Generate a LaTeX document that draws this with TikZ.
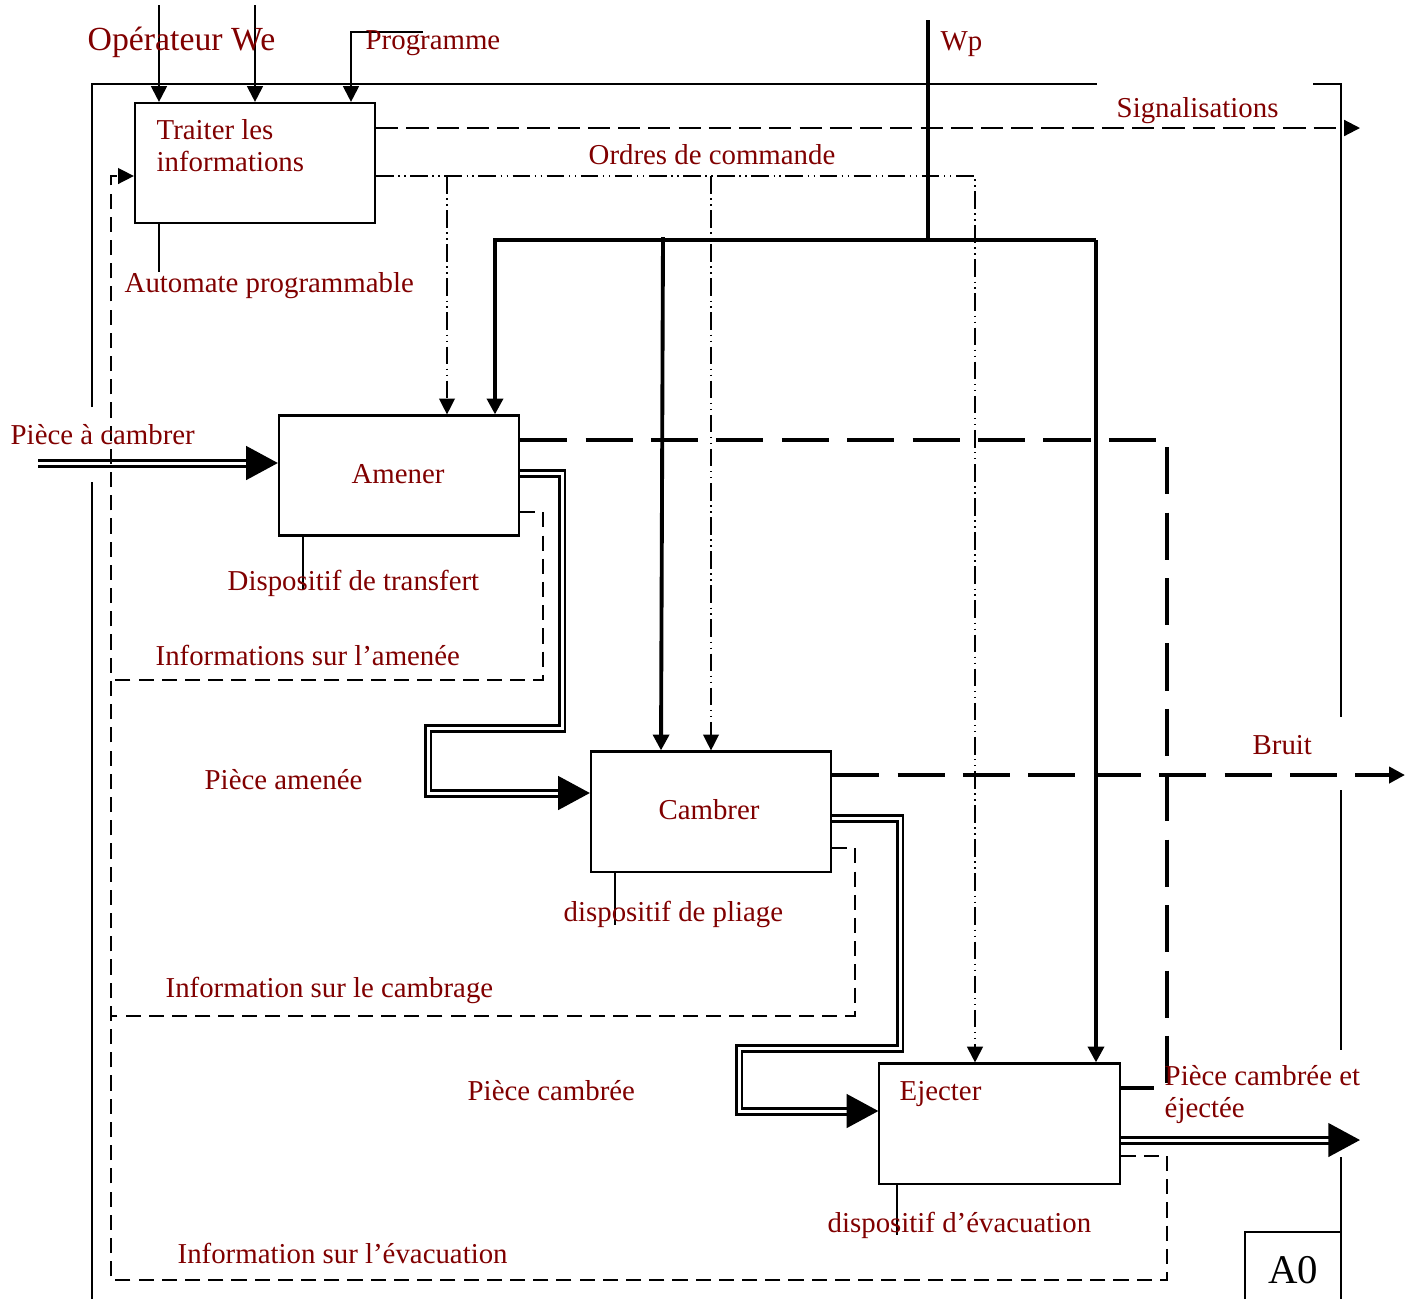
\documentclass[tikz,border=0pt]{standalone}
\usepackage{fontspec}
\setmainfont{Liberation Serif}
\usetikzlibrary{arrows.meta}
\definecolor{rougeidef}{RGB}{128,0,0}

\begin{document}
\begin{tikzpicture}[x=0.01cm, y=-0.01cm,
            fonction/.style={draw, line width=0.6pt, minimum width=2.4cm, minimum height=1.2cm, inner sep=0pt},
            etiq/.style={text=rougeidef, font=\fontsize{8.2}{9.1}\selectfont, inner sep=0pt, anchor=base west, align=left},
            cadre/.style={line width=0.45pt},
            meca/.style={line width=0.45pt},
            ctrl/.style={line width=0.6pt, -{Triangle[length=4.5pt, width=4.5pt]}},
            puiss/.style={line width=1.1pt},
            signal/.style={line width=0.6pt, dash pattern=on 6.3pt off 2.3pt},
            retour/.style={line width=0.45pt, dash pattern=on 4.3pt off 2.3pt},
            ordre/.style={line width=0.45pt, dash pattern=on 5pt off 1.3pt on 0.4pt off 1.3pt on 0.4pt off 1.3pt},
            bruit/.style={line width=1.4pt, dash pattern=on 13.4pt off 5.2pt},
            produit/.style={double, line width=0.85pt, double distance=0.85pt, -{Triangle[length=9pt, width=9.5pt]}},
            pointe/.style={-{Triangle[length=4.5pt, width=4.5pt]}}]
            \useasboundingbox (0,0) rectangle (1418,1299);

            \node[fonction] (traiter) at (255,163) {};
            \node[fonction] (amener) at (399,475.5) {};
            \node[fonction] (cambrer) at (711,811.5) {};
            \node[fonction] (ejecter) at (999.5,1123.5) {};

            \coordinate (we1) at (159,5);
            \coordinate (we2) at (255,5);
            \coordinate (prog) at (423,32);
            \coordinate (wp) at (928,20);
            \coordinate (entree) at (38,463);
            \coordinate (sortie) at (1360,1140);
            \coordinate (sbruit) at (1405,775);
            \coordinate (ssignal) at (1360,128);

            \draw[cadre] (92,407) -- (92,84) -- (1097,84);
            \draw[cadre] (92,482) -- (92,1299);
            \draw[cadre] (1313,84) -- (1341,84) -- (1341,717);
            \draw[cadre] (1341,790) -- (1341,1050);
            \draw[cadre] (1341,1157) -- (1341,1299);
            \draw[cadre] (1245,1299) -- (1245,1232) -- (1341,1232);

            \draw[ctrl] (we1) -- (traiter.north -| we1);
            \draw[ctrl] (we2) -- (traiter.north -| we2);
            \draw[ctrl] (prog) -- (351,32) -- (traiter.north -| 351,0);

            \draw[meca] (traiter.south -| 159,0) -- (159,272);
            \draw[meca] (amener.south -| 303,0) -- (303,590);
            \draw[meca] (cambrer.south -| 615,0) -- (615,925);
            \draw[meca] (ejecter.south -| 897,0) -- (897,1235);

            \draw[signal, pointe] (traiter.east |- 0,128) -- (ssignal);

            \draw[ordre, line width=0.6pt, pointe] (traiter.east |- 0,176) -- (975,176) -- (ejecter.north -| 975,0);
            \draw[ordre, line width=0.35pt, pointe] (447,176) -- (amener.north -| 447,0);
            \draw[ordre, line width=0.35pt, pointe] (711,176) -- (cambrer.north -| 711,0);

            \draw[puiss] (wp) -- (928,240);
            \draw[puiss, pointe] (1096,240) -- (495,240) -- (amener.north -| 495,0);
            \draw[puiss, pointe] (1096,240) -- (ejecter.north -| 1096,0);
            \draw[puiss, pointe] (663,237) -- (cambrer.north -| 661,0);

            \draw[bruit] (amener.east |- 0,440) -- (1167,440) -- (1167,1088) -- (ejecter.east |- 0,1088);
            \draw[bruit, pointe] (cambrer.east |- 0,775) -- (sbruit);

            \draw[produit] (entree) -- (amener.west |- 0,463);
            \draw[produit] (amener.east |- 0,473) -- (562,473) -- (562,728) -- (428,728) -- (428,793) -- (cambrer.west |- 0,793);
            \draw[produit] (cambrer.east |- 0,818) -- (900,818) -- (900,1048) -- (739,1048) -- (739,1111) -- (ejecter.west |- 0,1111);
            \draw[produit] (ejecter.east |- 0,1140) -- (sortie);

            \draw[retour] (amener.east |- 0,512) -- (543,512) -- (543,680) -- (111,680);
            \draw[retour] (cambrer.east |- 0,848) -- (855,848) -- (855,1016) -- (111,1016);
            \draw[retour, pointe] (ejecter.east |- 0,1156) -- (1167,1156) -- (1167,1280) -- (111,1280) -- (111,176) -- (traiter.west |- 0,176);

            \node[etiq, font=\fontsize{9.6}{11}\selectfont] at (87,50) {Opérateur We};
            \node[etiq] at (365,49) {Programme};
            \node[etiq] at (940,50) {Wp};
            \node[etiq] at (156,171) {Traiter les\\informations};
            \node[etiq] at (124,292) {Automate programmable};
            \node[etiq] at (1116,117) {Signalisations};
            \node[etiq] at (588,164) {Ordres de commande};
            \node[etiq] at (10,444) {Pièce à cambrer};
            \node[etiq, anchor=base] at (398,483) {Amener};
            \node[etiq] at (227,590) {Dispositif de transfert};
            \node[etiq] at (155,665) {Informations sur l’amenée};
            \node[etiq] at (204,789) {Pièce amenée};
            \node[etiq, anchor=base] at (709,819) {Cambrer};
            \node[etiq] at (1252,754) {Bruit};
            \node[etiq] at (563,921) {dispositif de pliage};
            \node[etiq] at (165,997) {Information sur le cambrage};
            \node[etiq] at (467,1100) {Pièce cambrée};
            \node[etiq] at (899,1100) {Ejecter};
            \node[etiq] at (1164,1117) {Pièce cambrée et\\éjectée};
            \node[etiq] at (827,1232) {dispositif d’évacuation};
            \node[etiq] at (177,1263) {Information sur l’évacuation};
            \node[anchor=base, inner sep=0pt, font=\fontsize{11.6}{13}\selectfont] at (1293,1283) {A0};
        \end{tikzpicture}
\end{document}
